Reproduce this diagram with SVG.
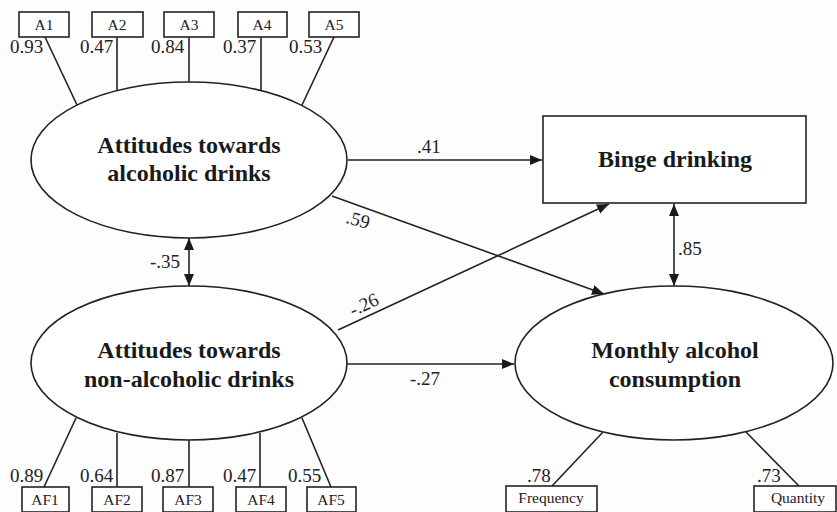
<svg xmlns="http://www.w3.org/2000/svg" width="837" height="512" viewBox="0 0 837 512" font-family="'Liberation Serif', 'Times New Roman', Tinos, 'DejaVu Serif', serif">
<defs>
<marker id="ah" markerUnits="userSpaceOnUse" markerWidth="13" markerHeight="11" refX="12" refY="5" orient="auto-start-reverse" viewBox="0 0 13 11">
<path d="M0,0 L12,5 L0,10 z" fill="#1a1a1a"/>
</marker>
<style>
.sh{fill:#fff;stroke:#222;stroke-width:1.6}
.ln{stroke:#222;stroke-width:1.6;fill:none}
text{font-family:'Liberation Serif','Times New Roman',Tinos,'DejaVu Serif',serif}
.big{font-weight:bold;font-size:24px;fill:#1a1a1a;text-anchor:middle}
.num{font-size:19px;fill:#222}
.box{font-size:15.5px;fill:#222;text-anchor:middle}
</style>
</defs>
<rect width="837" height="512" fill="#fdfdfd"/>
<g id="connectors">
<line class="ln" x1="348" y1="160" x2="542" y2="160" marker-end="url(#ah)"/>
<line class="ln" x1="332" y1="196" x2="604" y2="294" marker-end="url(#ah)"/>
<line class="ln" x1="338" y1="330" x2="609" y2="204" marker-end="url(#ah)"/>
<line class="ln" x1="347" y1="364" x2="514" y2="364" marker-end="url(#ah)"/>
<line class="ln" x1="189" y1="238" x2="189" y2="286" marker-start="url(#ah)" marker-end="url(#ah)"/>
<line class="ln" x1="674" y1="204" x2="674" y2="286" marker-start="url(#ah)" marker-end="url(#ah)"/>
<line class="ln" x1="45" y1="37" x2="77" y2="105"/>
<line class="ln" x1="117" y1="37" x2="117" y2="91"/>
<line class="ln" x1="189" y1="37" x2="189" y2="82"/>
<line class="ln" x1="261" y1="37" x2="261" y2="91"/>
<line class="ln" x1="334" y1="37" x2="302" y2="105"/>
<line class="ln" x1="76" y1="418" x2="44" y2="487"/>
<line class="ln" x1="117" y1="433" x2="117" y2="487"/>
<line class="ln" x1="189" y1="440" x2="189" y2="487"/>
<line class="ln" x1="260" y1="433" x2="260" y2="487"/>
<line class="ln" x1="302" y1="418" x2="331" y2="487"/>
<line class="ln" x1="603" y1="432" x2="552" y2="486"/>
<line class="ln" x1="746" y1="432" x2="799" y2="486"/>
<text class="num" x="417" y="153">.41</text>
<text class="num" x="358" y="226" text-anchor="middle" transform="rotate(15 358 220)">.59</text>
<text class="num" x="364" y="311" text-anchor="middle" transform="rotate(-25 364 305)">-.26</text>
<text class="num" x="410" y="385">-.27</text>
<text class="num" x="180" y="268" text-anchor="end">-.35</text>
<text class="num" x="678" y="255">.85</text>
<text class="num" x="10" y="53">0.93</text>
<text class="num" x="80" y="53">0.47</text>
<text class="num" x="151" y="53">0.84</text>
<text class="num" x="223" y="53">0.37</text>
<text class="num" x="289" y="53">0.53</text>
<text class="num" x="10" y="482">0.89</text>
<text class="num" x="80" y="482">0.64</text>
<text class="num" x="151" y="482">0.87</text>
<text class="num" x="223" y="482">0.47</text>
<text class="num" x="288" y="482">0.55</text>
<text class="num" x="527" y="482">.78</text>
<text class="num" x="757" y="482">.73</text>
</g>
<g id="att_alc"><ellipse class="sh" cx="189" cy="160" rx="158" ry="78"/><text class="big" x="189" y="153">Attitudes towards</text><text class="big" x="189" y="181">alcoholic drinks</text></g>
<g id="att_nonalc"><ellipse class="sh" cx="189" cy="363" rx="158" ry="77"/><text class="big" x="189" y="358">Attitudes towards</text><text class="big" x="189" y="387">non-alcoholic drinks</text></g>
<g id="binge"><rect class="sh" x="543" y="116" width="263" height="87"/><text class="big" x="675" y="167">Binge drinking</text></g>
<g id="monthly"><ellipse class="sh" cx="674" cy="363" rx="159" ry="77"/><text class="big" x="675" y="358">Monthly alcohol</text><text class="big" x="675" y="387">consumption</text></g>
<g id="A1"><rect class="sh" x="19" y="12" width="50" height="25"/><text class="box" x="44" y="30">A1</text></g>
<g id="A2"><rect class="sh" x="92" y="12" width="51" height="25"/><text class="box" x="117" y="30">A2</text></g>
<g id="A3"><rect class="sh" x="164" y="12" width="50" height="25"/><text class="box" x="189" y="30">A3</text></g>
<g id="A4"><rect class="sh" x="238" y="12" width="49" height="25"/><text class="box" x="262" y="30">A4</text></g>
<g id="A5"><rect class="sh" x="309" y="12" width="50" height="25"/><text class="box" x="334" y="30">A5</text></g>
<g id="AF1"><rect class="sh" x="22" y="487" width="47" height="25"/><text class="box" x="45" y="505">AF1</text></g>
<g id="AF2"><rect class="sh" x="92" y="487" width="50" height="25"/><text class="box" x="117" y="505">AF2</text></g>
<g id="AF3"><rect class="sh" x="163" y="487" width="50" height="25"/><text class="box" x="188" y="505">AF3</text></g>
<g id="AF4"><rect class="sh" x="236" y="487" width="50" height="25"/><text class="box" x="261" y="505">AF4</text></g>
<g id="AF5"><rect class="sh" x="307" y="487" width="49" height="25"/><text class="box" x="331" y="505">AF5</text></g>
<g id="freq"><rect class="sh" x="506" y="486" width="91" height="26"/><text class="box" x="551" y="503">Frequency</text></g>
<g id="qty"><rect class="sh" x="754" y="486" width="82" height="26"/><text class="box" x="798" y="503">Quantity</text></g>
</svg>
